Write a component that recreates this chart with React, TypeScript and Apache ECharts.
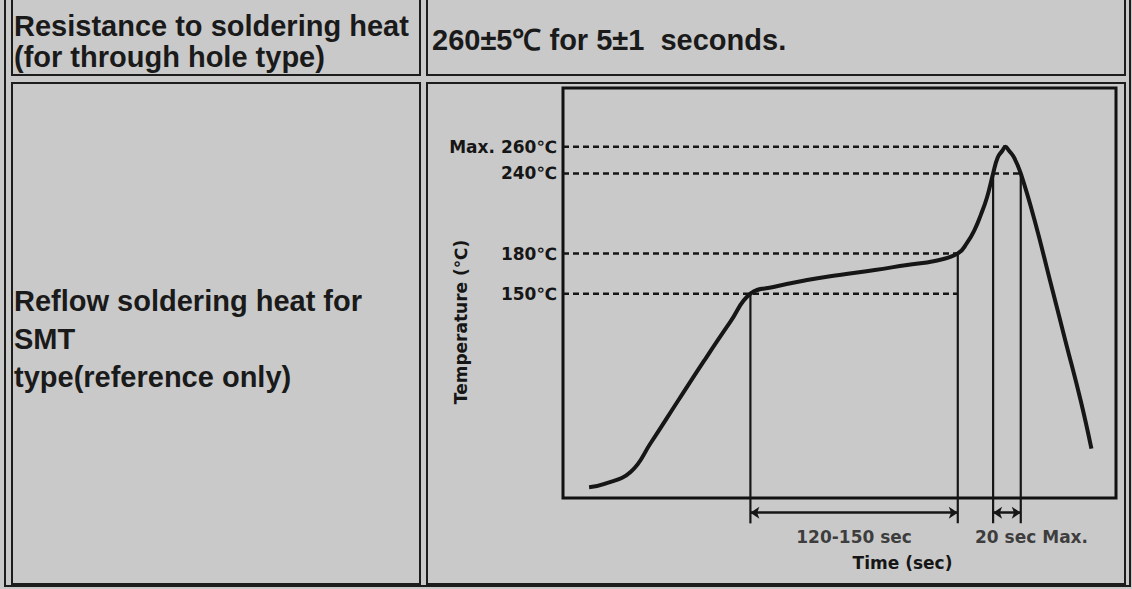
import React, { useEffect, useRef } from "react";
import * as echarts from "echarts";

// Reflow profile (time in s, temperature in °C) read from the schematic
const profileTime = [17, 27, 44, 57, 75, 92, 109, 122, 137, 158, 180, 203, 224, 242, 257, 263, 268, 272, 276, 280, 283, 286, 288, 290.4, 293.6, 298, 307, 317, 327, 337, 344];
const profileTemp = [5, 7.5, 16.5, 38, 70, 100, 129, 150, 155, 160, 164, 167.7, 171.5, 174.5, 180, 188, 198, 209, 222, 240, 252, 257, 260, 257, 252, 240, 205, 160, 115, 70, 34];

// Reference temperature levels and their labels
const levelTemps = [150, 180, 240, 260];
const levelLabels = ["150℃", "180℃", "240℃", "Max. 260℃"];
const levelEndTimes = [257, 257, 298, 288];

// Vertical marker lines (time, temperature where they meet the curve)
const markerTimes = [122, 257, 280, 298];
const markerTemps = [150, 180, 240, 240];

// Time spans with double arrows
const spanStarts = [122, 280];
const spanEnds = [257, 298];
const spanLabels = ["120-150 sec", "20 sec Max."];
const spanLabelTimes = [189.5, 305];

const yMin = -3;
const yMax = 304;
const markerBottom = -22;
const arrowLevel = -14;
const spanLabelLevel = -32;

const INK = "#161616";
const CHART_FONT = "DejaVu Sans";

export default function App() {
  const ref = useRef<HTMLDivElement>(null);
  useEffect(() => {
    if (!ref.current) return;
    const chart = echarts.init(ref.current, null, { renderer: "svg" });

    const series: any[] = [];
    series.push({
      type: "line",
      name: "profile",
      data: profileTime.map((t, i) => [t, profileTemp[i]]),
      smooth: 0.45,
      symbol: "none",
      lineStyle: { color: INK, width: 4 },
      z: 5,
    });
    levelTemps.forEach((T, i) => {
      series.push({
        type: "line",
        data: [[0, T], [levelEndTimes[i], T]],
        symbol: "none",
        lineStyle: { color: INK, width: 2.5, type: [6, 4] },
        z: 3,
      });
    });
    markerTimes.forEach((t, i) => {
      series.push({
        type: "line",
        data: [[t, markerTemps[i]], [t, markerBottom]],
        symbol: "none",
        clip: false,
        lineStyle: { color: INK, width: 2.2 },
        z: 3,
      });
    });
    series.push({
      type: "lines",
      coordinateSystem: "cartesian2d",
      clip: false,
      symbol: ["arrow", "arrow"],
      symbolSize: 9,
      lineStyle: { color: INK, width: 2.5, opacity: 1 },
      data: spanStarts.map((s, i) => ({ coords: [[s, arrowLevel], [spanEnds[i], arrowLevel]] })),
      z: 3,
    });
    series.push({
      type: "scatter",
      clip: false,
      symbolSize: 0,
      data: spanLabelTimes.map((t, i) => ({ value: [t, spanLabelLevel], name: spanLabels[i] })),
      label: {
        show: true,
        position: "inside",
        formatter: (p: any) => p.name,
        fontFamily: CHART_FONT,
        fontWeight: "bold",
        fontSize: 17,
        color: INK,
      },
      z: 4,
    });

    const cellStroke = { fill: "none", stroke: "#1c1c1c", lineWidth: 2 };
    const textFont = "Liberation Sans";

    chart.setOption({
      animation: false,
      backgroundColor: "#c9c9c9",
      grid: {
        left: 563,
        right: 1132 - 1116,
        top: 88,
        bottom: 589 - 498,
        show: true,
        borderColor: "#111",
        borderWidth: 3,
        backgroundColor: "transparent",
      },
      xAxis: {
        type: "value",
        min: 0,
        max: 360,
        name: "Time (sec)",
        nameLocation: "middle",
        nameGap: 56,
        nameMoveOverlap: false,
        nameTextStyle: { fontFamily: CHART_FONT, fontWeight: "bold", fontSize: 17, color: INK, padding: [0, 0, 0, 126] },
        axisLine: { show: false },
        axisTick: { show: false },
        axisLabel: { show: false },
        splitLine: { show: false },
      },
      yAxis: {
        type: "value",
        min: yMin,
        max: yMax,
        name: "Temperature (℃)",
        nameLocation: "middle",
        nameGap: 94,
        nameRotate: 90,
        nameMoveOverlap: false,
        nameTextStyle: { fontFamily: CHART_FONT, fontWeight: "bold", fontSize: 17, color: INK, padding: [0, 58, 0, 0] },
        axisLine: { show: false },
        axisTick: { show: false },
        splitLine: { show: false },
        axisLabel: {
          customValues: levelTemps,
          formatter: (v: number) => levelLabels[levelTemps.indexOf(v)] ?? "",
          fontFamily: CHART_FONT,
          fontWeight: "bold",
          fontSize: 17,
          color: INK,
          margin: 6,
        },
      },
      graphic: [
        { type: "rect", shape: { x: 5, y: -10, width: 1125, height: 596 }, style: cellStroke, silent: true },
        { type: "rect", shape: { x: 12, y: -10, width: 408, height: 85 }, style: cellStroke, silent: true },
        { type: "rect", shape: { x: 427, y: -10, width: 698, height: 85 }, style: cellStroke, silent: true },
        { type: "rect", shape: { x: 12, y: 83, width: 408, height: 501 }, style: cellStroke, silent: true },
        { type: "rect", shape: { x: 427, y: 83, width: 698, height: 501 }, style: cellStroke, silent: true },
        {
          type: "text",
          x: 14,
          y: 41,
          style: {
            text: "Resistance to soldering heat\n(for through hole type)",
            fontFamily: textFont,
            fontWeight: "bold",
            fontSize: 29,
            lineHeight: 31,
            fill: "#1a1a1a",
            textVerticalAlign: "middle",
          },
        },
        {
          type: "text",
          x: 432,
          y: 40,
          style: {
            text: "260±5℃ for 5±1  seconds.",
            fontFamily: textFont,
            fontWeight: "bold",
            fontSize: 29,
            fill: "#1a1a1a",
            textVerticalAlign: "middle",
          },
        },
        {
          type: "text",
          x: 14,
          y: 339,
          style: {
            text: "Reflow soldering heat for\nSMT\ntype(reference only)",
            fontFamily: textFont,
            fontWeight: "bold",
            fontSize: 29,
            lineHeight: 38,
            fill: "#1a1a1a",
            textVerticalAlign: "middle",
          },
        },
      ],
      series,
    });
    return () => chart.dispose();
  }, []);
  return (
    <div
      ref={ref}
      style={{ position: "fixed", left: 0, top: 0, width: 1132, height: 589 }}
    />
  );
}
